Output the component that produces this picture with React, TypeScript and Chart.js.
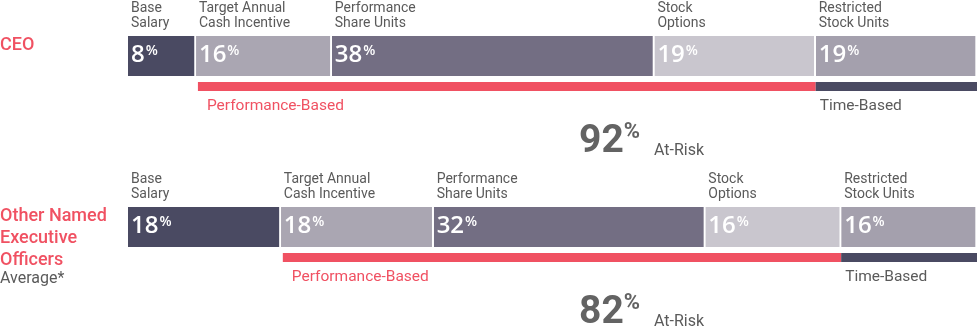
import React, { useEffect, useRef } from 'react';
import { Chart, registerables } from 'chart.js';
Chart.register(...registerables);

const groups = ['CEO', 'Other Named Executive Officers'];
const groupLabelLines = [['CEO'], ['Other Named', 'Executive', 'Officers']];
const groupSubLabels = ['', 'Average*'];
const components = ['Base Salary', 'Target Annual Cash Incentive', 'Performance Share Units', 'Stock Options', 'Restricted Stock Units'];
const componentLabelLines = [
  ['Base', 'Salary'],
  ['Target Annual', 'Cash Incentive'],
  ['Performance', 'Share Units'],
  ['Stock', 'Options'],
  ['Restricted', 'Stock Units'],
];
const baseSalary = [8, 18];
const targetCash = [16, 18];
const performanceShares = [38, 32];
const stockOptions = [19, 16];
const restrictedStock = [19, 16];
const atRisk = [92, 82];
const performanceBased = [1, 2, 3]; // component indices
const timeBased = [4];

const segColors = ['#4a4a62', '#aaa6b2', '#736e83', '#c9c6ce', '#a4a0ad'];
const RED = '#f05162';
const DARK = '#4a4a62';
const TEXT = '#5a5a5a';
const FONT = 'Roboto, "Noto Sans", sans-serif';
const NUMFONT = '"Open Sans", sans-serif';

const overlay = {
  id: 'overlay',
  afterDatasetsDraw(chart: any) {
    const ctx = chart.ctx;
    ctx.save();
    ctx.textBaseline = 'alphabetic';
    ctx.textAlign = 'left';
    const nGroups = groups.length;
    for (let j = 0; j < nGroups; j++) {
      const rects: any[] = [];
      chart.data.datasets.forEach((ds: any, i: number) => {
        const el = chart.getDatasetMeta(i).data[j];
        const left = Math.min(el.x, el.base);
        const right = Math.max(el.x, el.base);
        const top = el.y - el.height / 2;
        const bottom = el.y + el.height / 2;
        rects.push({ left, right, top, bottom });
        // percentage
        const v = String(ds.data[j]);
        ctx.fillStyle = '#ffffff';
        ctx.font = `600 24px ${NUMFONT}`;
        ctx.fillText(v, left + 3, top + 26);
        const w = ctx.measureText(v).width;
        ctx.font = `600 14px ${NUMFONT}`;
        ctx.fillText('%', left + 4 + w, top + 18.5);
        // component label
        ctx.fillStyle = TEXT;
        ctx.font = `14px ${FONT}`;
        const lines = componentLabelLines[i];
        ctx.fillText(lines[0], left + 3, top - 24);
        ctx.fillText(lines[1], left + 3, top - 9);
      });
      const top = rects[0].top;
      const bottom = rects[0].bottom;
      // group label
      ctx.fillStyle = RED;
      ctx.font = `500 18px ${FONT}`;
      const gl = groupLabelLines[j];
      gl.forEach((t, k) => ctx.fillText(t, 0, top + 14 + k * 22));
      if (groupSubLabels[j]) {
        ctx.fillStyle = TEXT;
        ctx.font = `16px ${FONT}`;
        ctx.fillText(groupSubLabels[j], 0, top + 14 + (gl.length - 1) * 22 + 18);
      }
      // performance / time lines
      const pStart = rects[performanceBased[0]].left + 2;
      const pEnd = rects[performanceBased[performanceBased.length - 1]].right;
      const tStart = rects[timeBased[0]].left;
      const tEnd = rects[timeBased[timeBased.length - 1]].right;
      ctx.fillStyle = RED;
      ctx.fillRect(pStart, bottom + 6, pEnd - pStart, 9);
      ctx.fillStyle = DARK;
      ctx.fillRect(tStart, bottom + 6, tEnd - tStart, 9);
      ctx.font = `15.5px ${FONT}`;
      ctx.fillStyle = RED;
      ctx.fillText('Performance-Based', pStart + 9, bottom + 34);
      ctx.fillStyle = TEXT;
      ctx.fillText('Time-Based', tStart + 4, bottom + 34);
      // at-risk
      const ax = 579;
      ctx.fillStyle = '#636363';
      ctx.font = `bold 39px ${FONT}`;
      const av = String(atRisk[j]);
      ctx.fillText(av, ax, bottom + 76);
      const aw = ctx.measureText(av).width;
      ctx.font = `bold 22px ${FONT}`;
      ctx.fillText('%', ax + aw, bottom + 62);
      ctx.font = `16px ${FONT}`;
      ctx.fillStyle = TEXT;
      ctx.fillText('At-Risk', 654, bottom + 79);
    }
    ctx.restore();
  },
};

export default function App() {
  const ref = useRef<HTMLCanvasElement>(null);
  useEffect(() => {
    document.body.style.margin = '0';
    const seriesValues = [baseSalary, targetCash, performanceShares, stockOptions, restrictedStock];
    const chart = new Chart(ref.current as HTMLCanvasElement, {
      type: 'bar',
      data: {
        labels: groups,
        datasets: components.map((name, i) => ({
          label: name,
          data: seriesValues[i],
          backgroundColor: segColors[i],
          borderColor: '#ffffff',
          borderWidth: { top: 0, bottom: 0, left: 0, right: 2 },
          borderSkipped: false,
          barThickness: 40,
          clip: false as any,
        })),
      },
      options: {
        indexAxis: 'y',
        responsive: false,
        animation: false,
        events: [],
        layout: { padding: { left: 128, right: 2, top: 56, bottom: 104 } },
        plugins: { legend: { display: false }, tooltip: { enabled: false }, title: { display: false } },
        scales: {
          x: { stacked: true, min: 0, max: 100, display: false },
          y: { stacked: true, display: false, offset: false },
        },
      },
      plugins: [overlay],
    });
    return () => chart.destroy();
  }, []);
  return <canvas ref={ref} width={979} height={331} style={{ display: 'block' }} />;
}
